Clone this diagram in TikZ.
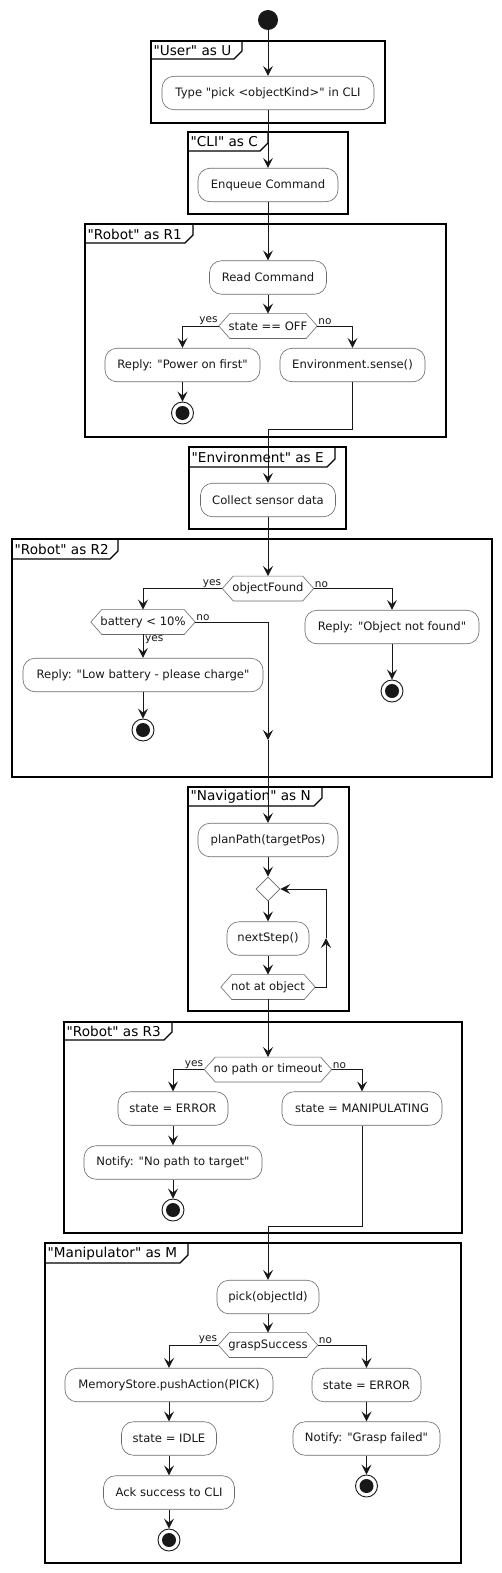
\documentclass[tikz,border=0pt]{standalone}
\usepackage{fontspec}
\newfontfamily\dejavu{DejaVu Sans}
\usetikzlibrary{arrows.meta,shapes.geometric}
\definecolor{ink}{HTML}{181818}
\definecolor{boxline}{HTML}{6A6A6A}
\newcommand\acttext{\dejavu\fontsize{11.6}{13}\selectfont}
\newcommand\lbltext{\dejavu\fontsize{10.5}{12}\selectfont}
\newcommand\ttltext{\dejavu\fontsize{13.6}{16}\selectfont}
\tikzset{
  act/.style={draw=boxline, line width=0.6pt, rounded corners=12pt, fill=white,
    inner sep=0pt, minimum height=33.5pt, minimum width=#1, font=\acttext, text=ink},
  hexn/.style={inner sep=0pt, minimum height=24.5pt, minimum width=#1, font=\acttext, text=ink},
  hexline/.style={draw=boxline, line width=0.6pt},
  flow/.style={draw=ink, line width=1pt, -{Stealth[length=10pt,width=10pt,inset=4pt]}},
  lbl/.style={font=\lbltext, text=ink, inner sep=1pt},
  startn/.style={circle, fill=ink, minimum size=20pt, inner sep=0pt},
  stopn/.style={circle, draw=ink, line width=0.9pt, fill=white, minimum size=22pt, inner sep=0pt,
    path picture={\fill[ink] (path picture bounding box.center) circle (7pt);}},
  dian/.style={diamond, draw=boxline, line width=0.6pt, minimum width=24pt, minimum height=24pt, inner sep=0pt},
  frameline/.style={draw=black, line width=1.5pt},
  tabline/.style={draw=black, line width=1.2pt},
  ptitle/.style={font=\ttltext, text=black, inner sep=0pt},
}
\newcommand\pframe[8]{%
  \draw[frameline] (#2,#3) rectangle (#4,#5);
  \draw[tabline] (#2,#7) -- (#6-8,#7) -- (#6,#7-8) -- (#6,#3);
  \node[ptitle, anchor=west] (#1) at (#2+2.5, {(#3+#7)/2+0.5}) {#8};
}
\newcommand\hexoutline[1]{%
  \draw[hexline] (#1.west) -- ([xshift=11pt]#1.north west) -- ([xshift=-11pt]#1.north east)
    -- (#1.east) -- ([xshift=-11pt]#1.south east) -- ([xshift=11pt]#1.south west) -- cycle;
}
\begin{document}
\begin{tikzpicture}[x=1pt, y=-1pt]
\useasboundingbox (0,0) rectangle (501,1573);
\fill[white] (0,0) rectangle (501,1573);

% partitions
\pframe{tU}{151}{41}{385}{123}{242}{59}{"User" as U}
\pframe{tC}{188}{132}{348}{214}{268}{151}{"CLI" as C}
\pframe{tR1}{85}{224}{446}{437}{193}{243}{"Robot" as R1}
\pframe{tE}{189}{447}{346}{529}{335}{467}{"Environment" as E}
\pframe{tR2}{12}{539}{492}{777}{118}{559}{"Robot" as R2}
\pframe{tN}{188}{787}{349}{1011}{322}{806}{"Navigation" as N}
\pframe{tR3}{64}{1022}{462}{1233}{172}{1040}{"Robot" as R3}
\pframe{tM}{45}{1243}{461}{1563}{188}{1263}{"Manipulator" as M}

% nodes
\node[startn] (start) at (268,20) {};
\node[act=212pt] (type) at (268,93) {Type "pick <objectKind>" in CLI};
\node[act=140pt] (enq) at (268,185) {Enqueue Command};
\node[act=117pt] (read) at (268,277.5) {Read Command};
\node[hexn=98pt] (h1) at (268,326) {state == OFF};
\node[act=155pt] (pwr) at (182.5,365) {Reply: "Power on first"};
\node[act=145pt] (sense) at (352.5,365) {Environment.sense()};
\node[stopn] (s1) at (182.5,413) {};
\coordinate (e1) at (352.5,429);
\node[act=135pt] (coll) at (268,500) {Collect sensor data};
\node[hexn=91pt] (of) at (268,588.5) {objectFound};
\node[hexn=104pt] (bat) at (143,622) {battery < 10\%};
\node[act=240pt] (low) at (143,675) {Reply: "Low battery - please charge"};
\node[stopn] (s2) at (143,730) {};
\node[act=174pt] (onf) at (392,627) {Reply: "Object not found"};
\node[stopn] (s3) at (392,691) {};
\coordinate (m2) at (268,740);
\node[act=140pt] (plan) at (268,840) {planPath(targetPos)};
\node[dian] (dia) at (268,889) {};
\node[act=82pt] (next) at (268,938.5) {nextStep()};
\node[hexn=94pt] (nat) at (268,987) {not at object};
\coordinate (lp) at (326,938);
\node[hexn=127pt] (np) at (268,1069.5) {no path or timeout};
\node[act=110pt] (err1) at (173,1108.5) {state = ERROR};
\node[act=178pt] (nopath) at (173,1162.5) {Notify: "No path to target"};
\node[stopn] (s4) at (173,1210) {};
\node[act=160pt] (manip) at (362,1108.5) {state = MANIPULATING};
\coordinate (e2) at (362,1226);
\node[act=102pt] (pick) at (268,1297) {pick(objectId)};
\node[hexn=99pt] (gs) at (268,1345) {graspSuccess};
\node[act=208pt] (mem) at (169,1385) {MemoryStore.pushAction(PICK)};
\node[act=95pt] (idle) at (169,1438.5) {state = IDLE};
\node[act=131pt] (ack) at (169,1492.5) {Ack success to CLI};
\node[stopn] (s5) at (169,1540) {};
\node[act=109pt] (err2) at (366.5,1385) {state = ERROR};
\node[act=147pt] (gf) at (366.5,1438.5) {Notify: "Grasp failed"};
\node[stopn] (s6) at (366.5,1486) {};

\hexoutline{h1}
\hexoutline{of}
\hexoutline{bat}
\hexoutline{nat}
\hexoutline{np}
\hexoutline{gs}

% labels
\node[lbl, anchor=south east] (y1) at (h1.west) {yes};
\node[lbl, anchor=south west] (n1) at (h1.east) {no};
\node[lbl, anchor=south east] (y2) at (of.west) {yes};
\node[lbl, anchor=south west] (n2) at (of.east) {no};
\node[lbl, anchor=south west] (n3) at (bat.east) {no};
\node[lbl, anchor=north west] (y3) at ([xshift=1pt]bat.south) {yes};
\node[lbl, anchor=south east] (y4) at (np.west) {yes};
\node[lbl, anchor=south west] (n4) at (np.east) {no};
\node[lbl, anchor=south east] (y5) at (gs.west) {yes};
\node[lbl, anchor=south west] (n5) at (gs.east) {no};

% connectors
\draw[flow] (start) -- (type.north);
\draw[flow] (type.south) -- (enq.north);
\draw[flow] (enq.south) -- (read.north);
\draw[flow] (read.south) -- (h1.north);
\draw[flow] (h1.west) -| (pwr.north);
\draw[flow] (h1.east) -| (sense.north);
\draw[flow] (pwr.south) -- (s1.north);
\draw[flow] (sense.south) -- (e1) -| (coll.north);
\draw[flow] (coll.south) -- (of.north);
\draw[flow] (of.west) -| (bat.north);
\draw[flow] (of.east) -| (onf.north);
\draw[flow] (bat.south) -- (low.north);
\draw[flow] (low.south) -- (s2.north);
\draw[flow] (onf.south) -- (s3.north);
\draw[flow] (bat.east) -| (m2);
\draw[flow] (m2) -- (plan.north);
\draw[flow] (plan.south) -- (dia.north);
\draw[flow] (dia.south) -- (next.north);
\draw[flow] (next.south) -- (nat.north);
\draw[flow] (nat.east) -| (lp);
\draw[flow] (lp) |- (dia.east);
\draw[flow] (nat.south) -- (np.north);
\draw[flow] (np.west) -| (err1.north);
\draw[flow] (err1.south) -- (nopath.north);
\draw[flow] (nopath.south) -- (s4.north);
\draw[flow] (np.east) -| (manip.north);
\draw[flow] (manip.south) -- (e2) -| (pick.north);
\draw[flow] (pick.south) -- (gs.north);
\draw[flow] (gs.west) -| (mem.north);
\draw[flow] (mem.south) -- (idle.north);
\draw[flow] (idle.south) -- (ack.north);
\draw[flow] (ack.south) -- (s5.north);
\draw[flow] (gs.east) -| (err2.north);
\draw[flow] (err2.south) -- (gf.north);
\draw[flow] (gf.south) -- (s6.north);
\end{tikzpicture}
\end{document}
